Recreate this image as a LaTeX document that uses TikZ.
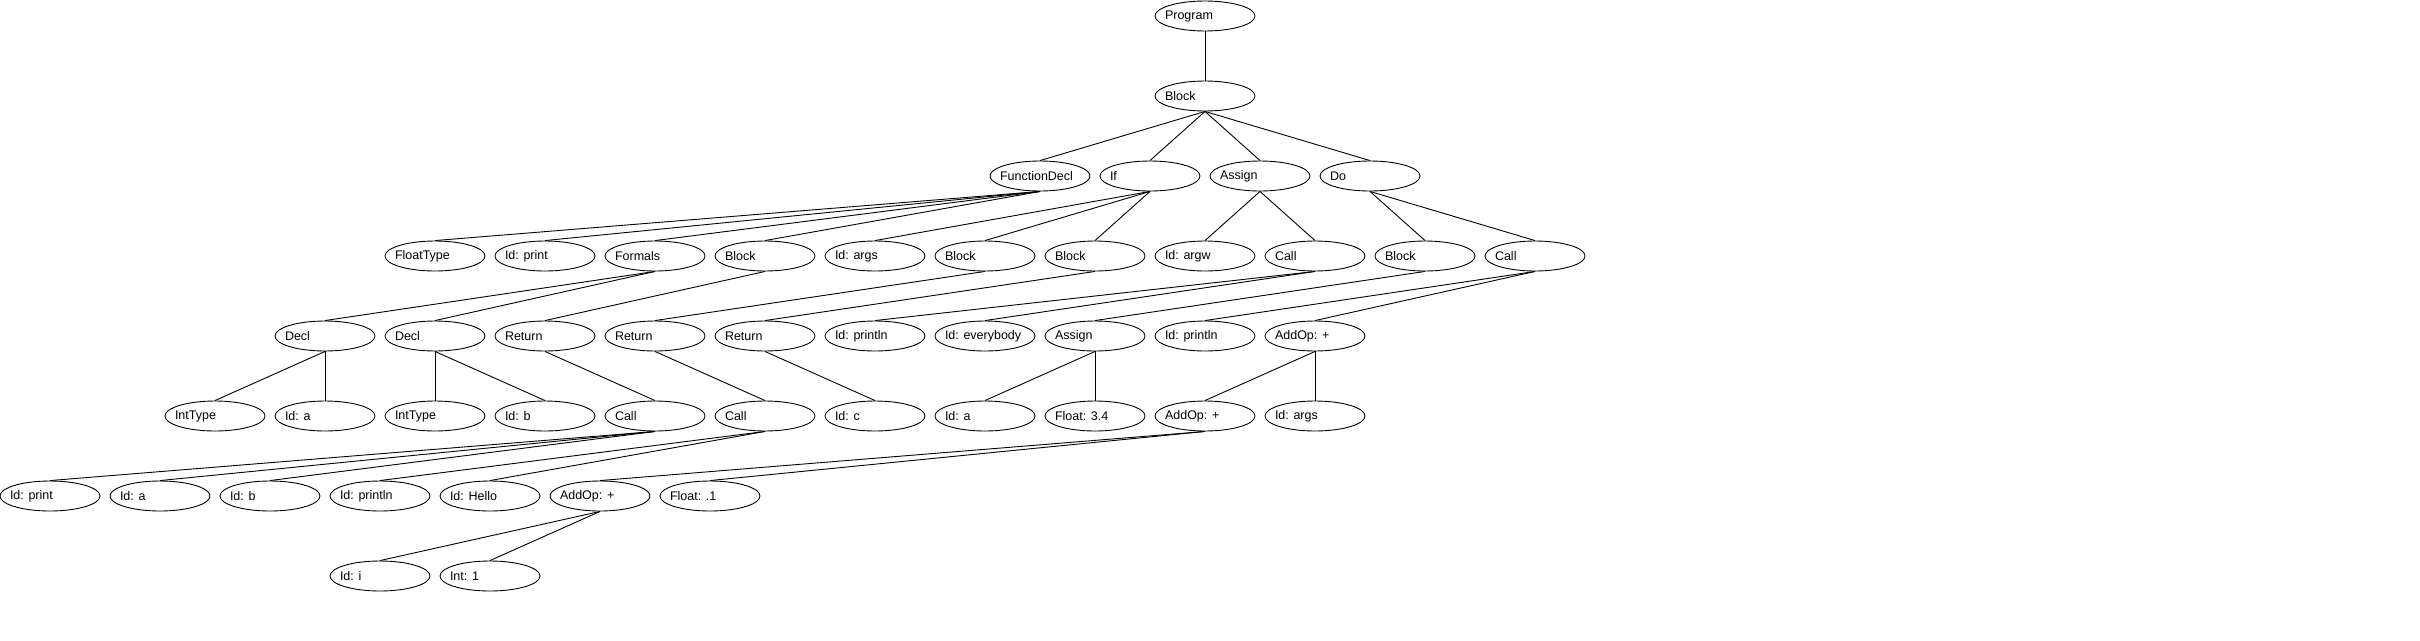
\documentclass[tikz,border=0pt]{standalone}
\usepackage{fontspec}
\setmainfont{Liberation Sans}
\usetikzlibrary{shapes.geometric}

\tikzset{
  astnode/.style={draw, ellipse, line width=0.9pt, minimum width=100pt, minimum height=30pt, inner sep=0pt, font=\fontsize{12.5}{14}\selectfont},
  astedge/.style={line width=0.9pt}
}
\newcommand{\astlbl}[1]{\makebox[0pt][l]{\hspace{-40pt}#1}}

\begin{document}
\begin{tikzpicture}[x=1pt, y=-1pt]
\useasboundingbox (0,0) rectangle (2420,640);

\node[astnode] (L0_1) at (1205,16) {\astlbl{Program}};
\node[astnode] (L1_1) at (1205,96) {\astlbl{Block}};
\draw[astedge] (L0_1.south) -- (L1_1.north);

\node[astnode] (L2_1) at (1040,176) {\astlbl{FunctionDecl}};
\node[astnode] (L2_2) at (1150,176) {\astlbl{If}};
\node[astnode] (L2_3) at (1260,176) {\astlbl{Assign}};
\node[astnode] (L2_4) at (1370,176) {\astlbl{Do}};
\draw[astedge] (L1_1.south) -- (L2_1.north);
\draw[astedge] (L1_1.south) -- (L2_2.north);
\draw[astedge] (L1_1.south) -- (L2_3.north);
\draw[astedge] (L1_1.south) -- (L2_4.north);

\node[astnode] (L3_1) at (435,256) {\astlbl{FloatType}};
\node[astnode] (L3_2) at (545,256) {\astlbl{Id: print}};
\node[astnode] (L3_3) at (655,256) {\astlbl{Formals}};
\node[astnode] (L3_4) at (765,256) {\astlbl{Block}};
\node[astnode] (L3_5) at (875,256) {\astlbl{Id: args}};
\node[astnode] (L3_6) at (985,256) {\astlbl{Block}};
\node[astnode] (L3_7) at (1095,256) {\astlbl{Block}};
\node[astnode] (L3_8) at (1205,256) {\astlbl{Id: argw}};
\node[astnode] (L3_9) at (1315,256) {\astlbl{Call}};
\node[astnode] (L3_10) at (1425,256) {\astlbl{Block}};
\node[astnode] (L3_11) at (1535,256) {\astlbl{Call}};
\draw[astedge] (L2_1.south) -- (L3_1.north);
\draw[astedge] (L2_1.south) -- (L3_2.north);
\draw[astedge] (L2_1.south) -- (L3_3.north);
\draw[astedge] (L2_1.south) -- (L3_4.north);
\draw[astedge] (L2_2.south) -- (L3_5.north);
\draw[astedge] (L2_2.south) -- (L3_6.north);
\draw[astedge] (L2_2.south) -- (L3_7.north);
\draw[astedge] (L2_3.south) -- (L3_8.north);
\draw[astedge] (L2_3.south) -- (L3_9.north);
\draw[astedge] (L2_4.south) -- (L3_10.north);
\draw[astedge] (L2_4.south) -- (L3_11.north);

\node[astnode] (L4_1) at (325,336) {\astlbl{Decl}};
\node[astnode] (L4_2) at (435,336) {\astlbl{Decl}};
\node[astnode] (L4_3) at (545,336) {\astlbl{Return}};
\node[astnode] (L4_4) at (655,336) {\astlbl{Return}};
\node[astnode] (L4_5) at (765,336) {\astlbl{Return}};
\node[astnode] (L4_6) at (875,336) {\astlbl{Id: println}};
\node[astnode] (L4_7) at (985,336) {\astlbl{Id: everybody}};
\node[astnode] (L4_8) at (1095,336) {\astlbl{Assign}};
\node[astnode] (L4_9) at (1205,336) {\astlbl{Id: println}};
\node[astnode] (L4_10) at (1315,336) {\astlbl{AddOp: +}};
\draw[astedge] (L3_3.south) -- (L4_1.north);
\draw[astedge] (L3_3.south) -- (L4_2.north);
\draw[astedge] (L3_4.south) -- (L4_3.north);
\draw[astedge] (L3_6.south) -- (L4_4.north);
\draw[astedge] (L3_7.south) -- (L4_5.north);
\draw[astedge] (L3_9.south) -- (L4_6.north);
\draw[astedge] (L3_9.south) -- (L4_7.north);
\draw[astedge] (L3_10.south) -- (L4_8.north);
\draw[astedge] (L3_11.south) -- (L4_9.north);
\draw[astedge] (L3_11.south) -- (L4_10.north);

\node[astnode] (L5_1) at (215,416) {\astlbl{IntType}};
\node[astnode] (L5_2) at (325,416) {\astlbl{Id: a}};
\node[astnode] (L5_3) at (435,416) {\astlbl{IntType}};
\node[astnode] (L5_4) at (545,416) {\astlbl{Id: b}};
\node[astnode] (L5_5) at (655,416) {\astlbl{Call}};
\node[astnode] (L5_6) at (765,416) {\astlbl{Call}};
\node[astnode] (L5_7) at (875,416) {\astlbl{Id: c}};
\node[astnode] (L5_8) at (985,416) {\astlbl{Id: a}};
\node[astnode] (L5_9) at (1095,416) {\astlbl{Float: 3.4}};
\node[astnode] (L5_10) at (1205,416) {\astlbl{AddOp: +}};
\node[astnode] (L5_11) at (1315,416) {\astlbl{Id: args}};
\draw[astedge] (L4_1.south) -- (L5_1.north);
\draw[astedge] (L4_1.south) -- (L5_2.north);
\draw[astedge] (L4_2.south) -- (L5_3.north);
\draw[astedge] (L4_2.south) -- (L5_4.north);
\draw[astedge] (L4_3.south) -- (L5_5.north);
\draw[astedge] (L4_4.south) -- (L5_6.north);
\draw[astedge] (L4_5.south) -- (L5_7.north);
\draw[astedge] (L4_8.south) -- (L5_8.north);
\draw[astedge] (L4_8.south) -- (L5_9.north);
\draw[astedge] (L4_10.south) -- (L5_10.north);
\draw[astedge] (L4_10.south) -- (L5_11.north);

\node[astnode] (L6_1) at (50,496) {\astlbl{Id: print}};
\node[astnode] (L6_2) at (160,496) {\astlbl{Id: a}};
\node[astnode] (L6_3) at (270,496) {\astlbl{Id: b}};
\node[astnode] (L6_4) at (380,496) {\astlbl{Id: println}};
\node[astnode] (L6_5) at (490,496) {\astlbl{Id: Hello}};
\node[astnode] (L6_6) at (600,496) {\astlbl{AddOp: +}};
\node[astnode] (L6_7) at (710,496) {\astlbl{Float: .1}};
\draw[astedge] (L5_5.south) -- (L6_1.north);
\draw[astedge] (L5_5.south) -- (L6_2.north);
\draw[astedge] (L5_5.south) -- (L6_3.north);
\draw[astedge] (L5_6.south) -- (L6_4.north);
\draw[astedge] (L5_6.south) -- (L6_5.north);
\draw[astedge] (L5_10.south) -- (L6_6.north);
\draw[astedge] (L5_10.south) -- (L6_7.north);

\node[astnode] (L7_1) at (380,576) {\astlbl{Id: i}};
\node[astnode] (L7_2) at (490,576) {\astlbl{Int: 1}};
\draw[astedge] (L6_6.south) -- (L7_1.north);
\draw[astedge] (L6_6.south) -- (L7_2.north);

\end{tikzpicture}
\end{document}
